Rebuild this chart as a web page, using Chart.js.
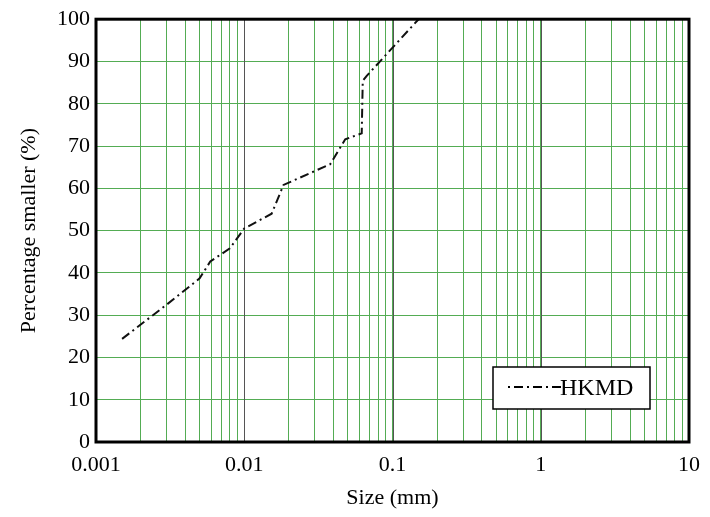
<!DOCTYPE html>
<html>
<head>
<meta charset="utf-8">
<script src="https://cdn.jsdelivr.net/npm/chart.js@4"></script>
<style>
  html, body { margin: 0; padding: 0; background: #fff; }
  #wrap { width: 710px; height: 517px; }
</style>
</head>
<body>
<div id="wrap"><canvas id="psd"></canvas></div>
<script>
// Grain size distribution, HKMD sample
const sizesMm = [0.0015, 0.003, 0.005, 0.0059, 0.008, 0.01, 0.0153, 0.0184, 0.038, 0.048, 0.062, 0.063, 0.067, 0.15];
const pctSmaller = [24.4, 32.5, 38.7, 42.7, 45.8, 50.5, 54.0, 60.8, 65.7, 71.6, 73.0, 85.4, 86.6, 100];
const seriesName = 'HKMD';
const decadeTicks = [0.001, 0.01, 0.1, 1, 10];

const FONT = '"Liberation Serif", "Times New Roman", serif';
const GREEN = 'rgb(84, 172, 84)';
const DASH = [9, 4, 2, 4];

function isDecade(v) {
    return decadeTicks.some(d => Math.abs(v / d - 1) < 1e-6);
}

// 1..9 in each decade for the log grid
function logGridTicks() {
    const out = [];
    decadeTicks.forEach((d, i) => {
        if (i === decadeTicks.length - 1) { out.push({ value: d }); return; }
        for (let k = 1; k <= 9; k++) out.push({ value: +(d * k).toPrecision(6) });
    });
    return out;
}

// grey lines on the whole decades, over the green grid
const decadeLines = {
    id: 'decadeLines',
    beforeDatasetsDraw(chart) {
        const { ctx, chartArea: a, scales: { x } } = chart;
        ctx.save();
        ctx.strokeStyle = '#555';
        ctx.lineWidth = 1;
        decadeTicks.slice(1, -1).forEach(d => {
            const px = Math.round(x.getPixelForValue(d)) + 0.5;
            ctx.beginPath();
            ctx.moveTo(px, a.top);
            ctx.lineTo(px, a.bottom);
            ctx.stroke();
        });
        ctx.restore();
    }
};

// box legend drawn inside the plot, lower right
const boxLegend = {
    id: 'boxLegend',
    afterDraw(chart) {
        const ctx = chart.ctx;
        const ds = chart.data.datasets[0];
        const x = 493, y = 367, w = 157, h = 42;
        ctx.save();
        ctx.fillStyle = '#fff';
        ctx.fillRect(x, y, w, h);
        ctx.strokeStyle = '#000';
        ctx.lineWidth = 1.5;
        ctx.strokeRect(x, y, w, h);
        ctx.beginPath();
        ctx.setLineDash([2, 4, 9, 4]);
        ctx.lineWidth = 2;
        ctx.moveTo(508, y + h / 2 - 1);
        ctx.lineTo(561, y + h / 2 - 1);
        ctx.stroke();
        ctx.setLineDash([]);
        ctx.fillStyle = '#000';
        ctx.font = '24px ' + FONT;
        ctx.textBaseline = 'middle';
        ctx.fillText(ds.label, 560, y + h / 2 + 1);
        ctx.restore();
    }
};

// heavy frame round the plot area
const frame = {
    id: 'frame',
    afterDatasetsDraw(chart) {
        const a = chart.chartArea;
        const ctx = chart.ctx;
        ctx.save();
        ctx.strokeStyle = '#000';
        ctx.lineWidth = 3;
        ctx.strokeRect(a.left, a.top, a.right - a.left, a.bottom - a.top);
        ctx.restore();
    }
};

new Chart(document.getElementById('psd'), {
    type: 'line',
    data: {
        datasets: [{
            label: seriesName,
            data: sizesMm.map((s, i) => ({ x: s, y: pctSmaller[i] })),
            borderColor: '#111',
            borderWidth: 2,
            borderDash: DASH,
            pointRadius: 0,
            fill: false,
            tension: 0
        }]
    },
    options: {
        responsive: true,
        maintainAspectRatio: false,
        animation: false,
        layout: { padding: { top: 14, right: 0, left: 0, bottom: 0 } },
        plugins: {
            legend: { display: false },
            tooltip: { enabled: false }
        },
        scales: {
            x: {
                type: 'logarithmic',
                min: 0.001,
                max: 10,
                afterBuildTicks: s => { s.ticks = logGridTicks(); },
                grid: { drawTicks: false, color: GREEN, lineWidth: 1 },
                border: { display: false },
                ticks: {
                    autoSkip: false,
                    maxRotation: 0,
                    padding: 10,
                    color: '#000',
                    font: { family: FONT, size: 22 },
                    callback: v => isDecade(v) ? String(v) : ''
                },
                title: {
                    display: true,
                    text: 'Size (mm)',
                    color: '#000',
                    font: { family: FONT, size: 22 },
                    padding: { top: 0, bottom: 6 }
                },
                afterFit: s => { s.height = 75; }
            },
            y: {
                min: 0,
                max: 100,
                grid: { drawTicks: false, color: GREEN, lineWidth: 1 },
                border: { display: false },
                ticks: {
                    stepSize: 10,
                    padding: 6,
                    color: '#000',
                    font: { family: FONT, size: 22 }
                },
                title: {
                    display: true,
                    text: 'Percentage smaller (%)',
                    color: '#000',
                    font: { family: FONT, size: 22 },
                    padding: { top: 16, bottom: 0 }
                },
                afterFit: s => { s.width = 96; }
            }
        }
    },
    plugins: [decadeLines, frame, boxLegend]
});
</script>
</body>
</html>
